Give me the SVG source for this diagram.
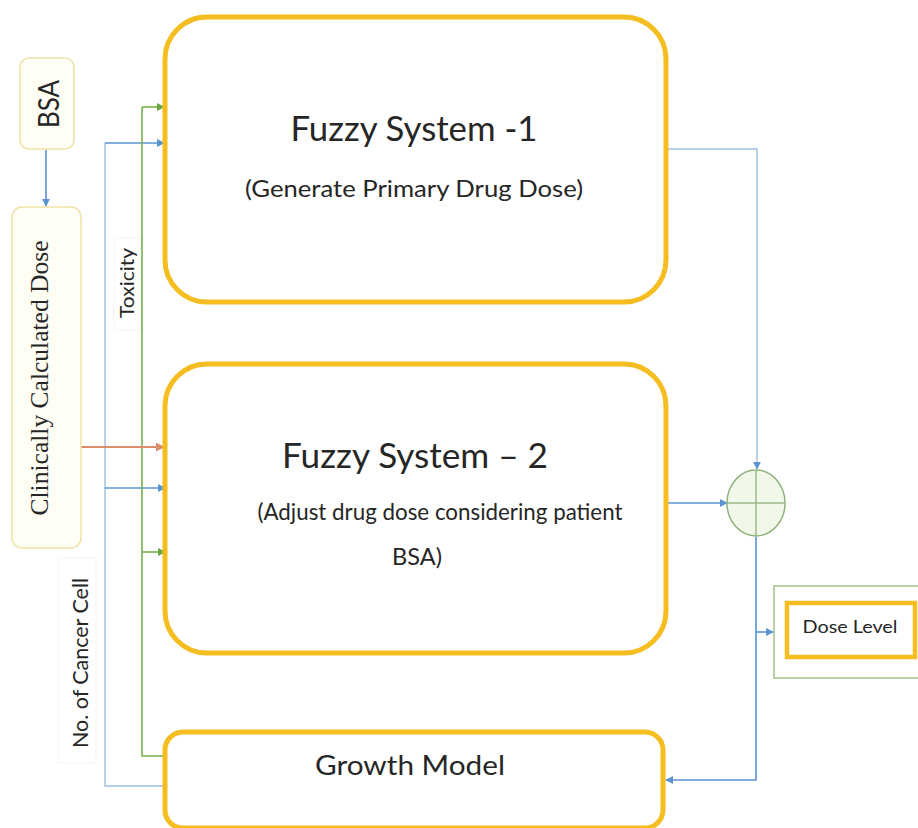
<svg xmlns="http://www.w3.org/2000/svg" width="918" height="828" viewBox="0 0 918 828">
  <style>
    .sys { fill: #ffffff; stroke: #f5bd1f; stroke-width: 5; }
    .inp { fill: #fffef4; stroke: #f0e2a8; stroke-width: 1.5; }
    .lbl { fill: #ffffff; stroke: #f5f5f5; stroke-width: 1; }
    .sans { font-family: Lato, "Liberation Sans", Arial, sans-serif; fill: #262626; }
    .serif { font-family: "Liberation Serif", "Times New Roman", serif; fill: #262626; }
    .blue { fill: none; stroke: #5b93d0; stroke-width: 1.6; }
    .lblue { fill: none; stroke: #9fbde2; stroke-width: 1.4; }
    .green { fill: none; stroke: #75b04d; stroke-width: 1.6; }
    .orange { fill: none; stroke: #dc8d6c; stroke-width: 1.8; }
  </style>
  <defs>
    <marker id="ab" viewBox="0 0 10 10" refX="9" refY="5" markerWidth="8" markerHeight="8" markerUnits="userSpaceOnUse" orient="auto">
      <path d="M0,0 L10,5 L0,10 z" fill="#5b93d0"/>
    </marker>
    <marker id="ag" viewBox="0 0 10 10" refX="9" refY="5" markerWidth="8" markerHeight="8" markerUnits="userSpaceOnUse" orient="auto">
      <path d="M0,0 L10,5 L0,10 z" fill="#6aa443"/>
    </marker>
    <marker id="ao" viewBox="0 0 10 10" refX="9" refY="5" markerWidth="9" markerHeight="9" markerUnits="userSpaceOnUse" orient="auto">
      <path d="M0,0 L10,5 L0,10 z" fill="#dc8d6c"/>
    </marker>
  </defs>

  <!-- connectors -->
  <g id="connectors">
    <!-- BSA to clinically calculated dose -->
    <line class="blue" x1="46" y1="150" x2="46" y2="206" marker-end="url(#ab)"/>
    <!-- cancer cell count feedback bus -->
    <path class="lblue" d="M163,786 H105 V143"/>
    <line class="blue" x1="105" y1="143" x2="164" y2="143" marker-end="url(#ab)"/>
    <line class="blue" x1="105" y1="488" x2="165" y2="488" marker-end="url(#ab)"/>
    <!-- toxicity bus -->
    <path class="green" d="M163,756 H142 V107"/>
    <line class="green" x1="142" y1="107" x2="164" y2="107" marker-end="url(#ag)"/>
    <line class="green" x1="142" y1="552" x2="165" y2="552" marker-end="url(#ag)"/>
    <!-- clinical dose into FS2 -->
    <line class="orange" x1="81" y1="447" x2="164" y2="447" marker-end="url(#ao)"/>
    <!-- outputs to summing junction -->
    <path class="lblue" d="M667,149 H757 V469" marker-end="url(#ab)"/>
    <line class="blue" x1="667" y1="503" x2="727" y2="503" marker-end="url(#ab)"/>
    <!-- junction to dose level and growth model -->
    <path class="blue" d="M756,537 V780 H666" marker-end="url(#ab)"/>
    <line class="blue" x1="756" y1="632" x2="773" y2="632" marker-end="url(#ab)"/>
  </g>

  <!-- inputs -->
  <g id="bsa">
    <rect class="inp" x="20" y="58" width="54" height="91" rx="9"/>
    <text class="sans" font-size="28" text-anchor="middle" textLength="48" lengthAdjust="spacingAndGlyphs" transform="translate(59,104) rotate(-90)">BSA</text>
  </g>
  <g id="clinical-dose">
    <rect class="inp" x="12" y="207" width="69" height="341" rx="10"/>
    <text class="serif" font-size="26" text-anchor="middle" textLength="275" lengthAdjust="spacingAndGlyphs" transform="translate(48,378) rotate(-90)">Clinically Calculated Dose</text>
  </g>
  <g id="toxicity-label">
    <rect class="lbl" x="114" y="238" width="26" height="92"/>
    <text class="sans" font-size="19" text-anchor="middle" textLength="70" lengthAdjust="spacingAndGlyphs" transform="translate(134,283) rotate(-90)">Toxicity</text>
  </g>
  <g id="cancer-cell-label">
    <rect class="lbl" x="58" y="558" width="38" height="205"/>
    <text class="sans" font-size="22" text-anchor="middle" textLength="170" lengthAdjust="spacingAndGlyphs" transform="translate(88,663) rotate(-90)">No. of Cancer Cell</text>
  </g>

  <!-- processing blocks -->
  <g id="fuzzy-system-1">
    <rect class="sys" x="165" y="17" width="501" height="285" rx="42"/>
    <text class="sans" x="414" y="141" font-size="35" text-anchor="middle" textLength="247" lengthAdjust="spacingAndGlyphs">Fuzzy System -1</text>
    <text class="sans" x="414" y="197" font-size="24" text-anchor="middle" textLength="338" lengthAdjust="spacingAndGlyphs">(Generate Primary Drug Dose)</text>
  </g>
  <g id="fuzzy-system-2">
    <rect class="sys" x="165" y="364" width="501" height="289" rx="42"/>
    <text class="sans" x="415" y="468" font-size="35" text-anchor="middle" textLength="266" lengthAdjust="spacingAndGlyphs">Fuzzy System – 2</text>
    <text class="sans" x="440" y="520" font-size="24" text-anchor="middle" textLength="365" lengthAdjust="spacingAndGlyphs">(Adjust drug dose considering patient</text>
    <text class="sans" x="417" y="565" font-size="24" text-anchor="middle" textLength="50" lengthAdjust="spacingAndGlyphs">BSA)</text>
  </g>
  <g id="growth-model">
    <rect class="sys" x="165" y="732" width="498" height="96" rx="18"/>
    <text class="sans" x="410" y="775" font-size="27" text-anchor="middle" textLength="190" lengthAdjust="spacingAndGlyphs">Growth Model</text>
  </g>

  <!-- summing junction -->
  <g id="sum">
    <ellipse cx="756" cy="503" rx="29" ry="33" fill="#f1f8ea" stroke="#8db27a" stroke-width="1.5"/>
    <line x1="727" y1="503" x2="785" y2="503" stroke="#9bb98a" stroke-width="1.5"/>
    <line x1="756" y1="470" x2="756" y2="536" stroke="#9bb98a" stroke-width="1.5"/>
  </g>

  <!-- output -->
  <g id="dose-level">
    <rect x="774" y="586" width="150" height="92" fill="#ffffff" stroke="#9fc48a" stroke-width="1.5"/>
    <rect x="787" y="603" width="128" height="54" fill="#ffffff" stroke="#f5bd1f" stroke-width="4.5"/>
    <text class="sans" x="850" y="633" font-size="18" text-anchor="middle" textLength="95" lengthAdjust="spacingAndGlyphs">Dose Level</text>
  </g>
</svg>
